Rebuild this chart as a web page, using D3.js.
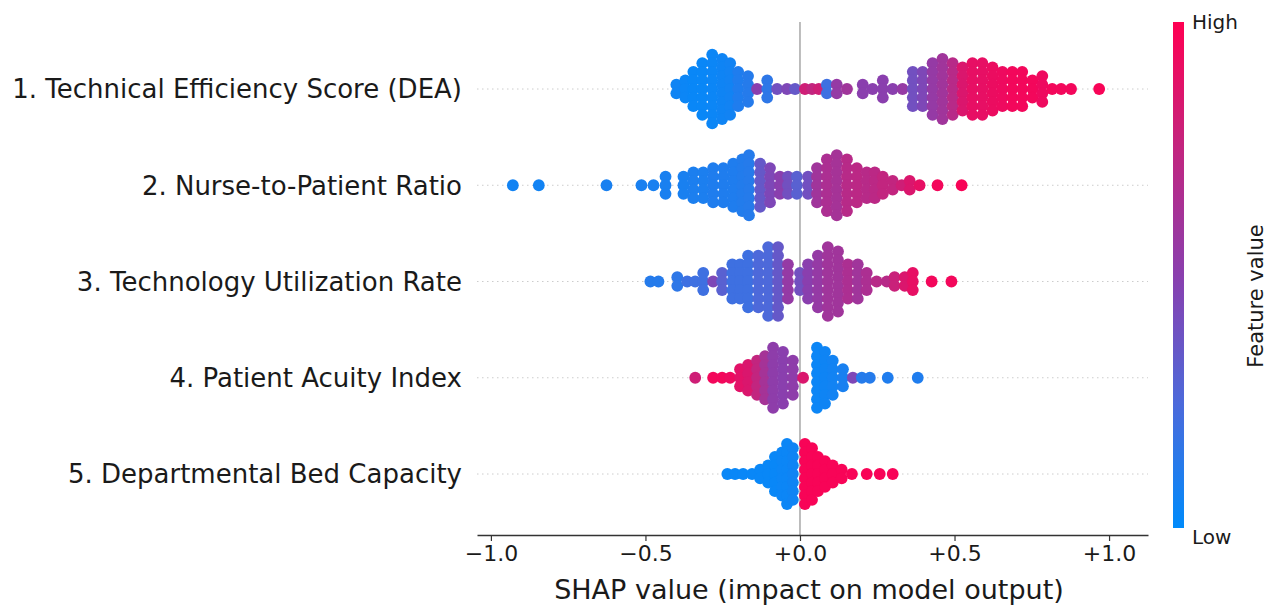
<!DOCTYPE html>
<html>
<head>
<meta charset="utf-8">
<script src="https://cdn.jsdelivr.net/npm/d3@7"></script>
<style>
  body { margin: 0; background: #fff; }
  svg { display: block; }
</style>
</head>
<body>
<svg id="chart"></svg>
<script>
const features = [
    "1. Technical Efficiency Score (DEA)",
    "2. Nurse-to-Patient Ratio",
    "3. Technology Utilization Rate",
    "4. Patient Acuity Index",
    "5. Departmental Bed Capacity"
];

// each entry: [shap value, number of dots stacked at that value, feature value 0..1]
const techEfficiency = [
    [-0.400, 2, 0.05], [-0.371, 3, 0.04], [-0.345, 5, 0.03], [-0.316, 7, 0.03], [-0.284, 9, 0.04],
    [-0.252, 8, 0.05], [-0.226, 7, 0.06], [-0.200, 5, 0.10], [-0.168, 4, 0.12], [-0.139, 1, 0.50],
    [-0.106, 3, 0.15], [-0.074, 1, 0.40], [-0.042, 1, 0.45], [-0.016, 1, 0.35], [0.016, 1, 0.80],
    [0.039, 1, 0.75], [0.061, 1, 0.80], [0.087, 2, 0.20], [0.119, 2, 0.55], [0.152, 1, 0.60],
    [0.203, 2, 0.50], [0.235, 1, 0.50], [0.268, 3, 0.50], [0.300, 1, 0.50], [0.332, 1, 0.55],
    [0.365, 5, 0.40], [0.397, 5, 0.45], [0.429, 7, 0.55], [0.461, 8, 0.60], [0.494, 7, 0.70],
    [0.526, 6, 0.85], [0.558, 7, 0.90], [0.590, 7, 0.90], [0.623, 6, 0.92], [0.655, 5, 0.93],
    [0.687, 5, 0.95], [0.719, 5, 0.95], [0.752, 3, 0.95], [0.784, 4, 0.93], [0.816, 1, 0.95],
    [0.845, 1, 0.95], [0.877, 1, 0.95], [0.968, 1, 0.97]
];

const nurseRatio = [
    [-0.929, 1, 0.06], [-0.845, 1, 0.06], [-0.626, 1, 0.08], [-0.513, 1, 0.08], [-0.474, 1, 0.08],
    [-0.435, 3, 0.08], [-0.377, 3, 0.08], [-0.345, 4, 0.09], [-0.313, 4, 0.09], [-0.281, 5, 0.10],
    [-0.248, 5, 0.10], [-0.216, 6, 0.10], [-0.187, 7, 0.11], [-0.165, 8, 0.12], [-0.129, 6, 0.35],
    [-0.097, 5, 0.45], [-0.065, 3, 0.50], [-0.039, 3, 0.40], [-0.010, 3, 0.30], [0.026, 3, 0.40],
    [0.055, 5, 0.60], [0.087, 7, 0.65], [0.119, 8, 0.62], [0.152, 7, 0.70], [0.184, 5, 0.72],
    [0.216, 4, 0.70], [0.242, 4, 0.72], [0.268, 3, 0.75], [0.300, 2, 0.75], [0.329, 1, 0.80],
    [0.355, 2, 0.85], [0.387, 1, 0.90], [0.445, 1, 0.95], [0.523, 1, 0.97]
];

const techUtilization = [
    [-0.484, 1, 0.12], [-0.458, 1, 0.12], [-0.397, 2, 0.15], [-0.365, 1, 0.20], [-0.339, 1, 0.20],
    [-0.313, 3, 0.20], [-0.281, 1, 0.45], [-0.252, 3, 0.30], [-0.219, 5, 0.20], [-0.194, 5, 0.20],
    [-0.168, 7, 0.20], [-0.135, 7, 0.25], [-0.103, 9, 0.25], [-0.071, 9, 0.35], [-0.039, 5, 0.55],
    [0.000, 3, 0.40], [0.026, 5, 0.50], [0.058, 7, 0.55], [0.090, 9, 0.60], [0.123, 8, 0.60],
    [0.155, 5, 0.65], [0.187, 5, 0.60], [0.216, 3, 0.65], [0.248, 1, 0.70], [0.281, 1, 0.70],
    [0.306, 2, 0.78], [0.339, 2, 0.85], [0.365, 3, 0.90], [0.426, 1, 0.95], [0.490, 1, 0.95]
];

const patientAcuity = [
    [-0.339, 1, 0.80], [-0.281, 1, 0.95], [-0.252, 1, 0.95], [-0.226, 1, 0.93], [-0.194, 3, 0.88],
    [-0.168, 4, 0.85], [-0.139, 5, 0.75], [-0.113, 6, 0.62], [-0.087, 8, 0.52], [-0.055, 7, 0.50],
    [-0.023, 5, 0.52], [0.010, 1, 0.85], [0.055, 8, 0.04], [0.081, 7, 0.05], [0.106, 5, 0.06],
    [0.139, 3, 0.08], [0.171, 1, 0.45], [0.200, 1, 0.12], [0.226, 1, 0.12], [0.284, 1, 0.10],
    [0.381, 1, 0.10]
];

const bedCapacity = [
    [-0.235, 1, 0.03], [-0.210, 1, 0.03], [-0.184, 1, 0.03], [-0.155, 1, 0.03], [-0.129, 2, 0.03],
    [-0.103, 3, 0.03], [-0.081, 5, 0.03], [-0.058, 6, 0.04], [-0.042, 8, 0.04], [-0.023, 7, 0.05],
    [0.016, 8, 0.97], [0.039, 7, 0.97], [0.058, 5, 0.97], [0.081, 4, 0.97], [0.106, 3, 0.97],
    [0.135, 2, 0.97], [0.168, 1, 0.97], [0.216, 1, 0.97], [0.258, 1, 0.97], [0.300, 1, 0.97]
];

const rows = [techEfficiency, nurseRatio, techUtilization, patientAcuity, bedCapacity];
const tickValues = [-1, -0.5, 0, 0.5, 1];
const tickLabels = ["\u22121.0", "\u22120.5", "+0.0", "+0.5", "+1.0"];
const colourStops = ["#008bfb", "#4d69da", "#8a3fae", "#c2257f", "#ff0052"];

const width = 1275, height = 607;
const axisY = 535, plotTop = 22;
const step = 8.6, radius = 5.9;

const svg = d3.select("#chart")
    .attr("width", width)
    .attr("height", height);

const x = d3.scaleLinear().domain([-1.045, 1.126]).range([477, 1148]);
const y = d3.scalePoint().domain(features).range([89, 474]);

const shapColor = d3.scaleLinear()
    .domain(d3.range(colourStops.length).map(i => i / (colourStops.length - 1)))
    .range(colourStops)
    .interpolate(d3.interpolateRgb);

// dotted row guides
svg.append("g").selectAll("line")
    .data(features)
    .join("line")
    .attr("x1", x.range()[0])
    .attr("x2", x.range()[1])
    .attr("y1", d => y(d))
    .attr("y2", d => y(d))
    .attr("stroke", "#cccccc")
    .attr("stroke-width", 1)
    .attr("stroke-dasharray", "1.5,3.5");

// zero line
svg.append("line")
    .attr("x1", x(0)).attr("x2", x(0))
    .attr("y1", plotTop).attr("y2", axisY)
    .attr("stroke", "#999")
    .attr("stroke-width", 1.3);

// dots
const dots = [];
rows.forEach((bins, i) => {
    bins.forEach(([s, n, f]) => {
        for (let k = 0; k < n; k++) {
            dots.push({ feature: features[i], shap: s, off: k - (n - 1) / 2, feat: f });
        }
    });
});

svg.append("g").selectAll("circle")
    .data(dots)
    .join("circle")
    .attr("cx", d => x(d.shap))
    .attr("cy", d => y(d.feature) + d.off * step)
    .attr("r", radius)
    .attr("fill", d => shapColor(d.feat));

// feature labels
svg.append("g").selectAll("text")
    .data(features)
    .join("text")
    .attr("x", 462)
    .attr("y", d => y(d))
    .attr("dy", "0.36em")
    .attr("text-anchor", "end")
    .style("font-family", "DejaVu Sans, sans-serif")
    .style("font-size", "26px")
    .style("fill", "#1a1a1a")
    .text(d => d);

// x axis
const axis = svg.append("g")
    .attr("transform", `translate(0,${axisY})`)
    .call(d3.axisBottom(x)
        .tickValues(tickValues)
        .tickFormat((d, i) => tickLabels[i])
        .tickSizeInner(6)
        .tickSizeOuter(0));
axis.select(".domain").attr("stroke", "#333").attr("stroke-width", 1.3);
axis.selectAll(".tick line").attr("stroke", "#333").attr("stroke-width", 1.2);
axis.selectAll(".tick text")
    .attr("y", 10)
    .style("font-family", "DejaVu Sans, sans-serif")
    .style("font-size", "22px")
    .style("fill", "#1a1a1a");

svg.append("text")
    .attr("x", x(0) + 9)
    .attr("y", 599)
    .attr("text-anchor", "middle")
    .style("font-family", "DejaVu Sans, sans-serif")
    .style("font-size", "27px")
    .style("fill", "#1a1a1a")
    .text("SHAP value (impact on model output)");

// colour bar
const defs = svg.append("defs");
const grad = defs.append("linearGradient")
    .attr("id", "featGrad")
    .attr("x1", 0).attr("y1", 1).attr("x2", 0).attr("y2", 0);
grad.selectAll("stop")
    .data(d3.range(0, 1.0001, 0.05))
    .join("stop")
    .attr("offset", d => d)
    .attr("stop-color", d => shapColor(d));

svg.append("rect")
    .attr("x", 1173).attr("y", 22)
    .attr("width", 11).attr("height", 506)
    .attr("fill", "url(#featGrad)");

svg.append("text")
    .attr("x", 1192).attr("y", 22)
    .attr("dy", "0.36em")
    .style("font-family", "DejaVu Sans, sans-serif")
    .style("font-size", "20px")
    .style("fill", "#1a1a1a")
    .text("High");

svg.append("text")
    .attr("x", 1192).attr("y", 537)
    .attr("dy", "0.36em")
    .style("font-family", "DejaVu Sans, sans-serif")
    .style("font-size", "20px")
    .style("fill", "#1a1a1a")
    .text("Low");

svg.append("text")
    .attr("transform", "translate(1255,296) rotate(-90)")
    .attr("text-anchor", "middle")
    .attr("dy", "0.36em")
    .style("font-family", "DejaVu Sans, sans-serif")
    .style("font-size", "21px")
    .style("fill", "#1a1a1a")
    .text("Feature value");
</script>
</body>
</html>
